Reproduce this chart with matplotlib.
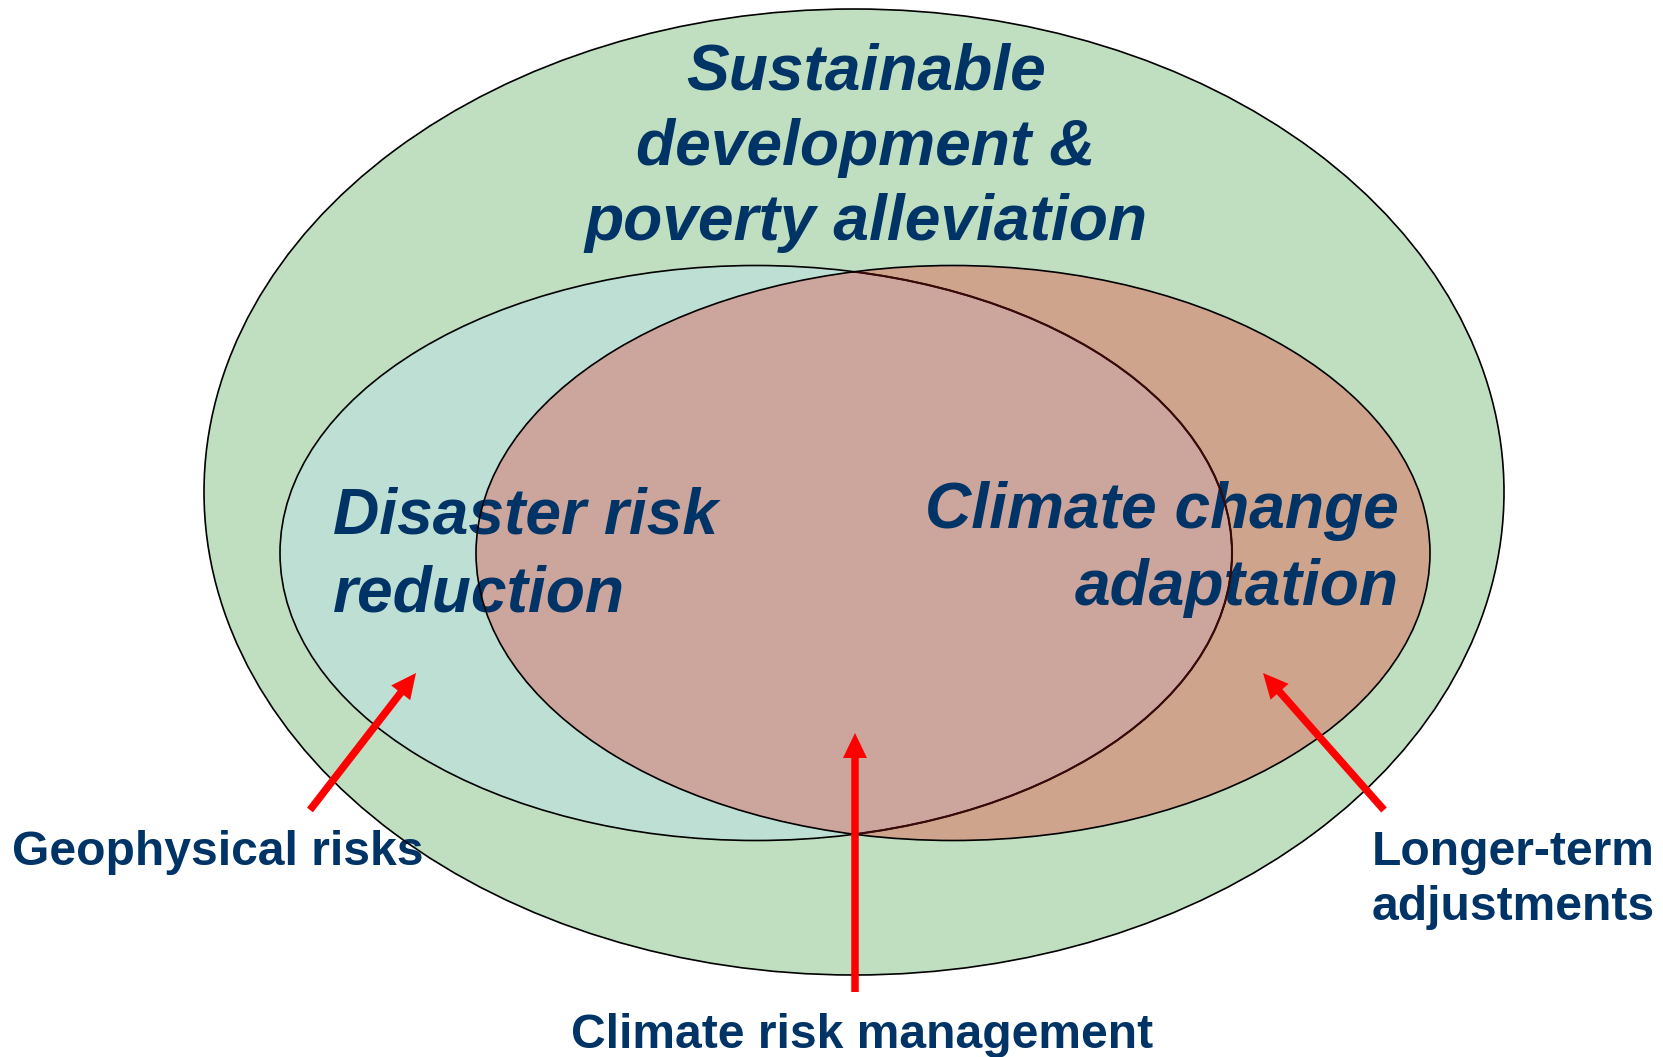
import matplotlib
matplotlib.use("Agg")
import matplotlib.pyplot as plt
from matplotlib.patches import Ellipse

W, H = 1663, 1057

# --- text content ---
title_lines = ["Sustainable", "development &", "poverty alleviation"]
drr_lines = ["Disaster risk", "reduction"]
cca_lines = ["Climate change", "adaptation"]
geo_label = "Geophysical risks"
longer_lines = ["Longer-term", "adjustments"]
crm_label = "Climate risk management"

NAVY = "#003366"
RED = "#FF0000"
C_OUTER = "#C0DFC1"
C_LEFT = "#BEDFD3"
C_RIGHT = "#CFA48D"
C_OVER = "#CCA59D"

fig = plt.figure(figsize=(W / 100, H / 100), dpi=100)
ax = fig.add_axes([0, 0, 1, 1])
ax.set_xlim(0, W)
ax.set_ylim(H, 0)
ax.axis("off")

lw = 1.2
outer = Ellipse((854, 492), 1300, 966, facecolor=C_OUTER, edgecolor="none", zorder=1)
left = Ellipse((756, 553), 952, 575, facecolor=C_LEFT, edgecolor="none", zorder=2)
right = Ellipse((953, 553), 954, 575, facecolor=C_RIGHT, edgecolor="none", zorder=3)
over = Ellipse((756, 553), 952, 575, facecolor=C_OVER, edgecolor="none", zorder=4)
for p in (outer, left, right, over):
    ax.add_patch(p)
over.set_clip_path(right)

# outlines (on top of the text)
ax.add_patch(Ellipse((854, 492), 1300, 966, fill=False, edgecolor="black", lw=lw, zorder=8))
ax.add_patch(Ellipse((756, 553), 952, 575, fill=False, edgecolor="black", lw=lw, zorder=8))
inner_seg = Ellipse((756, 553), 952, 575, fill=False, edgecolor="#3A0A0A", lw=lw + 0.3, zorder=8.5)
ax.add_patch(inner_seg)
clip_r = Ellipse((953, 553), 954, 575, transform=ax.transData)
ax.add_patch(clip_r)
clip_r.set_visible(False)
inner_seg.set_clip_path(clip_r)
ax.add_patch(Ellipse((953, 553), 954, 575, fill=False, edgecolor="black", lw=lw, zorder=9))

big = dict(family="Liberation Sans", weight="bold", style="italic", fontsize=46.2,
           color=NAVY, va="baseline", zorder=6)
small = dict(family="Liberation Sans", weight="bold", fontsize=34.6,
             color=NAVY, va="baseline", zorder=6)

for txt, y in zip(title_lines, [89, 165, 240]):
    ax.text(866, y, txt, ha="center", **big)
for txt, y in zip(drr_lines, [534, 611]):
    ax.text(333, y, txt, ha="left", **big)
for txt, y in zip(cca_lines, [528, 605]):
    ax.text(1399, y, txt, ha="right", **big)

ax.text(12, 865, geo_label, ha="left", **small)
for txt, y in zip(longer_lines, [865, 920]):
    ax.text(1372, y, txt, ha="left", **small)
ax.text(862, 1048, crm_label, ha="center", **small)

# arrows (tail -> tip)
arrows = [((310, 810), (416, 673)),
          ((855, 992), (855, 733)),
          ((1384, 810), (1263, 673))]
for (x0, y0), (x1, y1) in arrows:
    ax.arrow(x0, y0, x1 - x0, y1 - y0, width=7.5, head_width=24, head_length=25,
             length_includes_head=True, facecolor=RED, edgecolor="none", zorder=10)

fig.savefig("out.png", dpi=100)
